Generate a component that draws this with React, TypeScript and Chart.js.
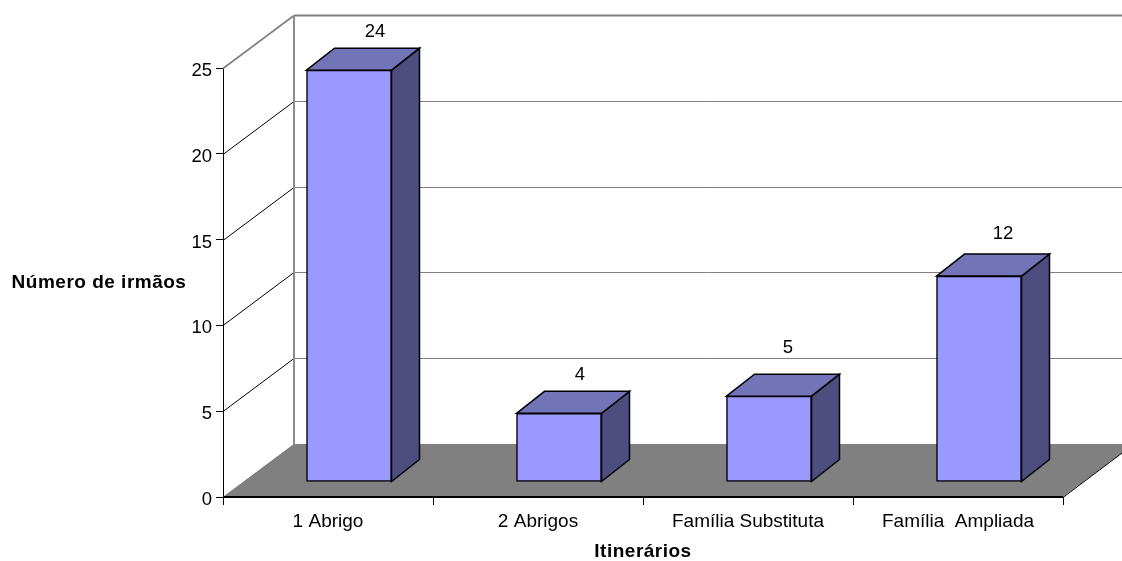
import React, { useEffect, useRef } from "react";
import { Chart, registerables } from "chart.js";

Chart.register(...registerables);

const categories = ["1 Abrigo", "2 Abrigos", "Família Substituta", "Família  Ampliada"];
const values = [24, 4, 5, 12];
const xTitle = "Itinerários";
const yTitle = "Número de irmãos";

const FONT = "'Liberation Sans', Arial, sans-serif";
const labelNudges: [number, number][] = [[47, -53], [42, -53], [40, -63], [45, -57]];

const threeD = {
  id: "threeD",
  beforeDatasetsDraw(chart: any) {
    const { ctx } = chart;
    const { x, y } = chart.scales;
    const L = x.left, R = x.right, B = y.bottom, T = y.top;
    const dx = 71, dy = -53;
    ctx.save();
    ctx.fillStyle = "#808080";
    ctx.beginPath();
    ctx.moveTo(L, B);
    ctx.lineTo(L + dx, B + dy);
    ctx.lineTo(R + dx, B + dy);
    ctx.lineTo(R, B);
    ctx.closePath();
    ctx.fill();
    ctx.strokeStyle = "#000";
    ctx.lineWidth = 1;
    ctx.beginPath();
    ctx.moveTo(R, B + 0.5);
    ctx.lineTo(R + dx, B + dy);
    ctx.stroke();
    for (const t of y.ticks) {
      const py = Math.round(y.getPixelForValue(t.value));
      const isTop = t.value === y.max;
      const isBase = t.value === y.min;
      ctx.strokeStyle = isTop || isBase ? "#808080" : "#000";
      ctx.lineWidth = isTop ? 1.6 : 1;
      ctx.beginPath();
      ctx.moveTo(L, py + 0.5);
      ctx.lineTo(L + dx, py + dy + 0.5);
      ctx.stroke();
      ctx.strokeStyle = "#808080";
      ctx.lineWidth = isTop ? 2 : 1;
      ctx.beginPath();
      ctx.moveTo(L + dx, py + dy + 0.5);
      ctx.lineTo(R + dx, py + dy + 0.5);
      ctx.stroke();
    }
    ctx.strokeStyle = "#8C8C8C";
    ctx.lineWidth = 2;
    ctx.beginPath();
    ctx.moveTo(L + dx, T + dy);
    ctx.lineTo(L + dx, B + dy);
    ctx.stroke();
    ctx.strokeStyle = "#000";
    ctx.lineWidth = 2;
    ctx.beginPath();
    ctx.moveTo(L, B);
    ctx.lineTo(R, B);
    ctx.stroke();
    ctx.restore();
  },
  beforeDatasetDraw(chart: any) {
    const { ctx } = chart;
    const sx = 21, sy = -15;
    const sdx = 28, sdy = -22;
    const meta = chart.getDatasetMeta(0);
    ctx.save();
    ctx.lineWidth = 1.5;
    ctx.strokeStyle = "#000";
    ctx.lineJoin = "miter";
    meta.data.forEach((bar: any) => {
      const l = bar.x - bar.width / 2 + sx;
      const r = bar.x + bar.width / 2 + sx;
      const t = bar.y + sy;
      const b = bar.base + sy;
      ctx.fillStyle = "#4D4D80";
      ctx.beginPath();
      ctx.moveTo(r, t);
      ctx.lineTo(r + sdx, t + sdy);
      ctx.lineTo(r + sdx, b + sdy);
      ctx.lineTo(r, b);
      ctx.closePath();
      ctx.fill();
      ctx.stroke();
      ctx.fillStyle = "#7373B8";
      ctx.beginPath();
      ctx.moveTo(l, t);
      ctx.lineTo(l + sdx, t + sdy);
      ctx.lineTo(r + sdx, t + sdy);
      ctx.lineTo(r, t);
      ctx.closePath();
      ctx.fill();
      ctx.stroke();
    });
    ctx.restore();
    ctx.save();
    ctx.translate(sx, sy);
  },
  afterDatasetDraw(chart: any) {
    chart.ctx.restore();
  },
  afterDraw(chart: any) {
    const { ctx } = chart;
    const { x } = chart.scales;
    const meta = chart.getDatasetMeta(0);
    ctx.save();
    ctx.fillStyle = "#000";
    ctx.textAlign = "center";
    ctx.textBaseline = "middle";
    ctx.font = `18.5px ${FONT}`;
    meta.data.forEach((bar: any, i: number) => {
      ctx.fillText(String(values[i]), bar.x + labelNudges[i][0], bar.y + labelNudges[i][1]);
    });
    ctx.font = `bold 19px ${FONT}`;
    ctx.letterSpacing = "0.5px";
    ctx.fillText(xTitle, (x.left + x.right) / 2, 552);
    ctx.fillText(yTitle, 99, 283);
    ctx.restore();
  },
};

export default function App() {
  const ref = useRef<HTMLCanvasElement>(null);
  useEffect(() => {
    const chart = new Chart(ref.current!, {
      type: "bar",
      data: {
        labels: categories,
        datasets: [
          {
            data: values,
            backgroundColor: "#9999FF",
            borderColor: "#000",
            borderWidth: 1.5,
            borderSkipped: false,
            barThickness: 85,
          },
        ],
      },
      plugins: [threeD],
      options: {
        animation: false,
        responsive: false,
        layout: { padding: { top: 68, right: 59, left: 0, bottom: 0 } },
        plugins: { legend: { display: false }, tooltip: { enabled: false } },
        scales: {
          x: {
            afterFit(s: any) {
              s.height = 64;
            },
            border: { color: "#000", width: 1 },
            grid: { drawOnChartArea: false, color: "#000", tickLength: 8 },
            ticks: { color: "#000", font: { family: FONT, size: 19 }, maxRotation: 0, autoSkip: false, padding: 5 },
          },
          y: {
            min: 0,
            max: 25,
            afterFit(s: any) {
              s.width = 223;
            },
            afterUpdate(s: any) {
              const orig = s._computeLabelItems.bind(s);
              s._computeLabelItems = (area: any) =>
                orig(area).map((it: any) => ({
                  ...it,
                  options: {
                    ...it.options,
                    translation: [it.options.translation[0], it.options.translation[1] + 1.5],
                  },
                }));
            },
            border: { color: "#000", width: 1 },
            grid: { drawOnChartArea: false, color: "#000", tickLength: 7 },
            ticks: { stepSize: 5, color: "#000", font: { family: FONT, size: 18.5 }, padding: 4 },
          },
        },
      },
    } as any);
    return () => chart.destroy();
  }, []);
  return (
    <canvas
      ref={ref}
      width={1122}
      height={561}
      style={{ position: "absolute", left: 0, top: 0, width: 1122, height: 561, display: "block" }}
    />
  );
}
